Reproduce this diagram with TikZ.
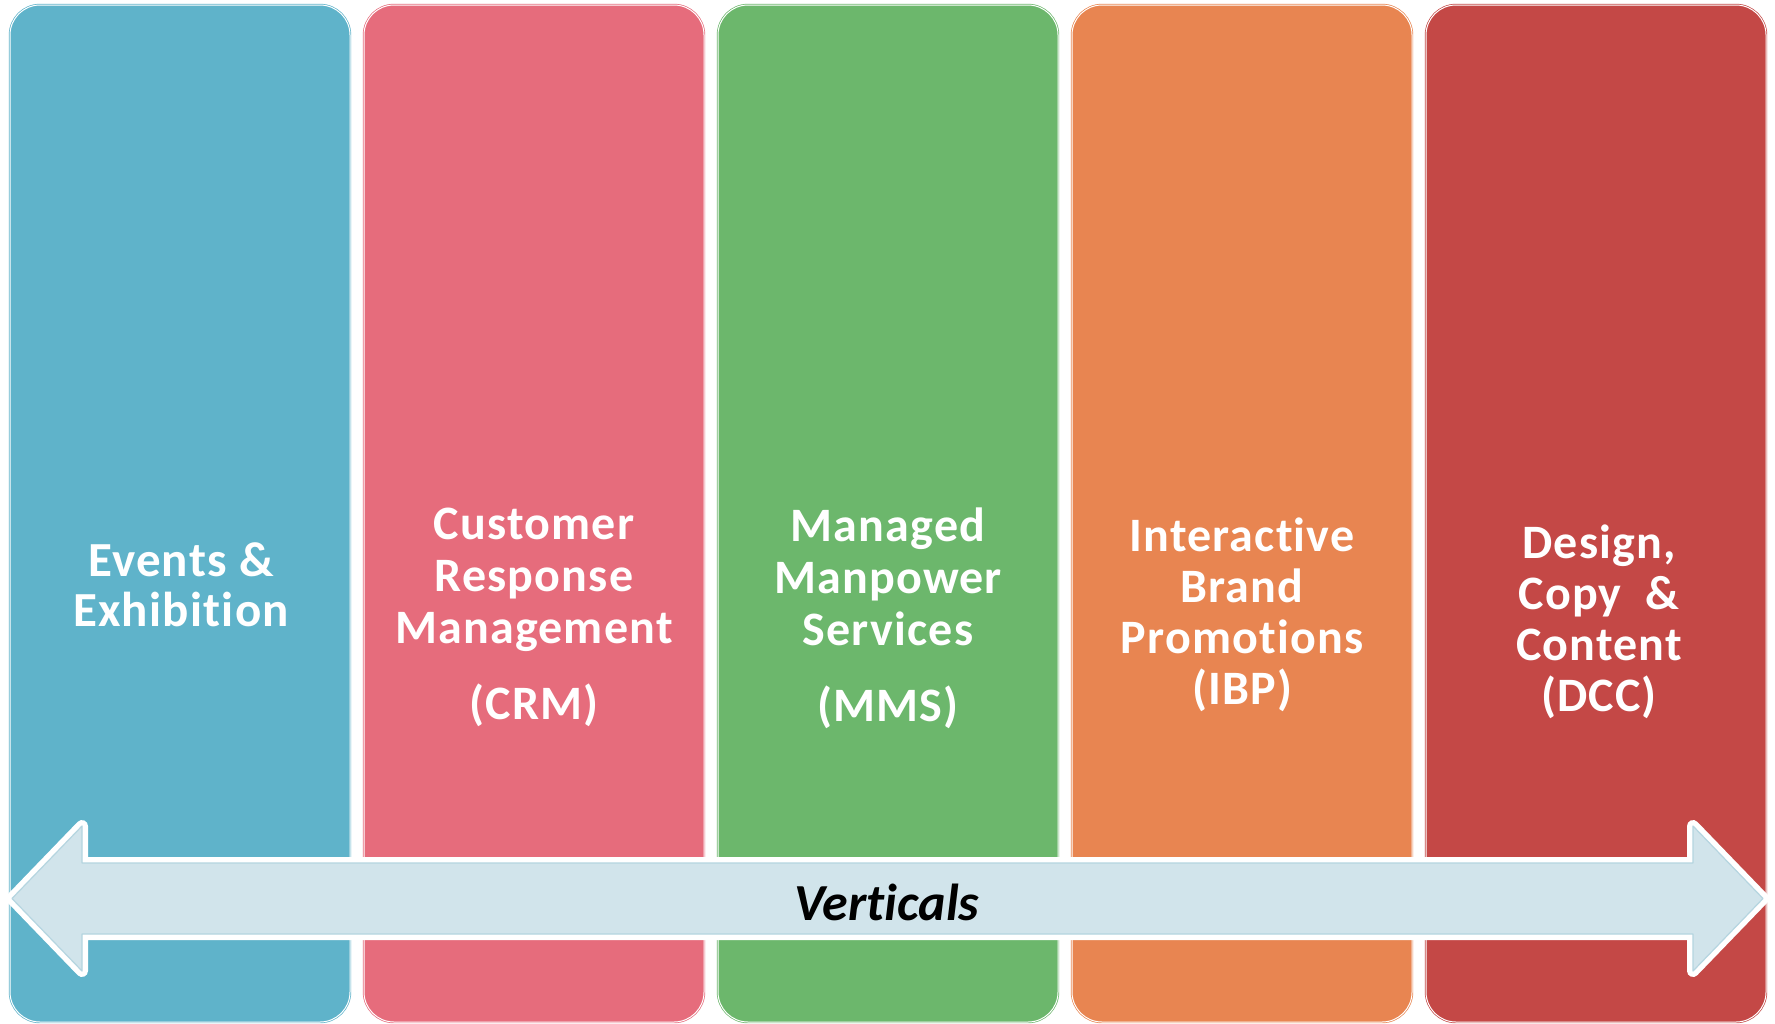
\documentclass[tikz,border=0pt]{standalone}
\usepackage{fontspec}
\setmainfont{Carlito}[Ligatures=CommonOff]
\newfontfamily\colfont{Carlito}[Ligatures=CommonOff, LetterSpace=2.5]
\definecolor{evblue}{HTML}{5FB3CA}
\definecolor{crmpink}{HTML}{E66C7C}
\definecolor{mmsgreen}{HTML}{6CB76C}
\definecolor{ibporange}{HTML}{E88551}
\definecolor{dccred}{HTML}{C44846}
\definecolor{arrowfill}{HTML}{D1E4EB}
\definecolor{arrowline}{HTML}{B5D5E0}
\begin{document}
\begin{tikzpicture}[
        x=0.5pt, y=-0.5pt,
        column/.style={draw=#1, fill=#1, double=white, double distance=0.5pt, line width=0.35pt,
            rounded corners=15pt, minimum width=170pt, minimum height=508.5pt, inner sep=0pt},
        coltext/.style={text=white, font=\colfont\fontsize{24}{26}\selectfont\bfseries, align=center,
            anchor=north, inner sep=0pt},
        bigarrow/.style={draw=arrowline, line width=0.6pt, fill=arrowfill, line join=round,
            preaction={draw=white, line width=6pt, line join=round}},
    ]
    \fill[white] (0,0) rectangle (1775,1023);
    \useasboundingbox (0,0) rectangle (1775,1023);
    % the five columns
    \foreach \name/\col/\xc in {ev/evblue/180, crm/crmpink/534, mms/mmsgreen/888,
        ibp/ibporange/1242, dcc/dccred/1596}
        \node[column=\col] (\name) at (\xc,513.5) {};
    \node[coltext, font=\colfont\fontsize{24.5}{25}\selectfont\bfseries] (evtext) at (181,542) {Events \&\\Exhibition};
    \node[coltext] (crmtext) at (534,508) {Customer\\Response\\Management\\[12pt](CRM)};
    \node[coltext] (mmstext) at (888,507) {Managed\\Manpower\\Services\\[12pt](MMS)};
    \node[coltext, font=\colfont\fontsize{24}{25.5}\selectfont\bfseries] (ibptext) at (1242,517) {Interactive\\Brand\\Promotions\\(IBP)};
    \node[coltext, font=\colfont\fontsize{24}{25.5}\selectfont\bfseries] (dcctext) at (1599,524) {Design,\\Copy\ \ \&\\Content\\(DCC)};
    % the double arrow
    \draw[bigarrow] (12,898.5) -- (82,826) -- (82,863) -- (1693,863) -- (1693,826) -- (1763,898.5)
        -- (1693,971) -- (1693,934) -- (82,934) -- (82,971) -- cycle;
    \node[font=\fontsize{26}{30}\selectfont\bfseries\itshape, anchor=base] (vert) at (887,920) {Verticals};
\end{tikzpicture}
\end{document}
